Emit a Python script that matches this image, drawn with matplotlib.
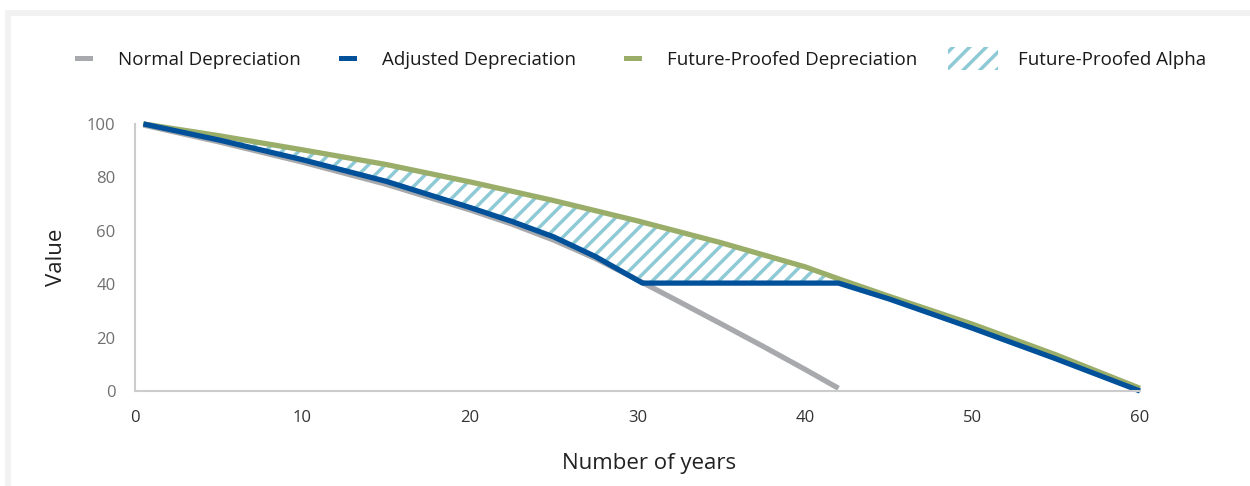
import matplotlib.pyplot as plt
from matplotlib.patches import Patch, Rectangle
from matplotlib.legend_handler import HandlerPatch

plt.rcParams['font.family'] = ['Open Sans', 'DejaVu Sans']
plt.rcParams['hatch.linewidth'] = 2.5

# values
normal_x = [0.5, 5, 10, 15, 20, 22.5, 25, 27.5, 30, 32.5, 35, 37.5, 40, 42]
normal_y = [99.6, 93.3, 85.7, 77.4, 67.8, 62.5, 56.5, 49.6, 41.6, 33.4, 25.1, 16.7, 8.1, 1]

adjusted_x = [0.5, 5, 10, 15, 20, 22.5, 25, 27.5, 30.3, 42, 45, 50, 55, 60]
adjusted_y = [100, 94, 86.6, 78.5, 68.7, 63.5, 57.7, 50.3, 40.4, 40.4, 34.5, 23.5, 12, 0]

future_x = [0.5, 5, 10, 15, 20, 25, 30, 35, 40, 42, 45, 50, 55, 60]
future_y = [100, 95.6, 90.3, 84.8, 78.3, 71.3, 63.7, 55.5, 46.5, 42, 35.5, 25, 13.5, 1]

# gap between future-proofed and adjusted curves, up to year 42
alpha_x = [0.5, 5, 10, 15, 20, 22.5, 25, 27.5, 30, 30.3, 35, 40, 42]
alpha_top = [100, 95.6, 90.3, 84.8, 78.3, 74.8, 71.3, 67.6, 63.7, 63.2, 55.5, 46.5, 42]
alpha_bottom = [100, 94, 86.6, 78.5, 68.7, 63.5, 57.7, 50.3, 41.5, 40.4, 40.4, 40.4, 40.4]

labels = ['Normal Depreciation', 'Adjusted Depreciation',
          'Future-Proofed Depreciation', 'Future-Proofed Alpha']

gray = '#a7a9ac'
blue = '#00509a'
green = '#9aae6a'
hatch_col = '#8ecad6'

fig = plt.figure(figsize=(12.5, 4.86), dpi=100)
# light grey frame on top and left
fig.patches.append(Rectangle((5 / 1250, 1 - 16 / 486), 1, 6 / 486, transform=fig.transFigure,
                             facecolor='#f2f2f2', edgecolor='none'))
fig.patches.append(Rectangle((5 / 1250, 0), 6 / 1250, 1 - 10 / 486, transform=fig.transFigure,
                             facecolor='#f2f2f2', edgecolor='none'))

ax = fig.add_axes([0.108, 0.1955, 0.804, 0.5495])

ax.fill_between(alpha_x, alpha_bottom, alpha_top, facecolor='none', hatch='//',
                edgecolor=hatch_col, linewidth=0)
ax.plot(normal_x, normal_y, color=gray, lw=3.8, solid_capstyle='butt', clip_on=False)
ax.plot(future_x, future_y, color=green, lw=3.8, solid_capstyle='butt', clip_on=False)
ax.plot(adjusted_x, adjusted_y, color=blue, lw=3.8, solid_capstyle='butt', clip_on=False)

ax.set_xlim(0, 60)
ax.set_ylim(0, 100)
ax.set_xticks([0, 10, 20, 30, 40, 50, 60])
ax.set_yticks([0, 20, 40, 60, 80, 100])
ax.tick_params(length=0, labelsize=12)
ax.tick_params(axis='y', colors='#707070', pad=14)
ax.tick_params(axis='x', colors='#333333', pad=14)
for s in ['top', 'right']:
    ax.spines[s].set_visible(False)
for s in ['left', 'bottom']:
    ax.spines[s].set_color('#cccccc')
    ax.spines[s].set_linewidth(1.5)

ax.set_xlabel('Number of years', fontsize=16, color='#222222', labelpad=19)
ax.xaxis.label.set_x(0.512)
ax.set_ylabel('Value', fontsize=16, color='#222222', labelpad=14)


def line_patch(legend, orig_handle, xdescent, ydescent, width, height, fontsize):
    # short thick dash near the right of the handle box
    return Rectangle((-xdescent + width - 16.5, -ydescent + height / 2 - 1.8), 13, 3.6)


def hatch_patch(legend, orig_handle, xdescent, ydescent, width, height, fontsize):
    return Rectangle((-xdescent, -ydescent + height / 2 - 8), width, 16)


handles = [
    Patch(facecolor=gray, edgecolor='none'),
    Patch(facecolor=blue, edgecolor='none'),
    Patch(facecolor=green, edgecolor='none'),
    Patch(facecolor='none', edgecolor=hatch_col, hatch='//', linewidth=0),
]
funcs = [line_patch, line_patch, line_patch, hatch_patch]
box_left_px = [48, 312, 597, 948]

for h, lab, f, xp in zip(handles, labels, funcs, box_left_px):
    leg = fig.legend([h], [lab], loc='center left', bbox_to_anchor=(xp / 1250, 1 - 60 / 486),
                     frameon=False, fontsize=13.5, handlelength=2.67, handletextpad=1.07,
                     borderpad=0, borderaxespad=0,
                     handler_map={Patch: HandlerPatch(patch_func=f)})
    for t in leg.get_texts():
        t.set_color('#1a1a1a')

fig.savefig('out.png', dpi=100)
